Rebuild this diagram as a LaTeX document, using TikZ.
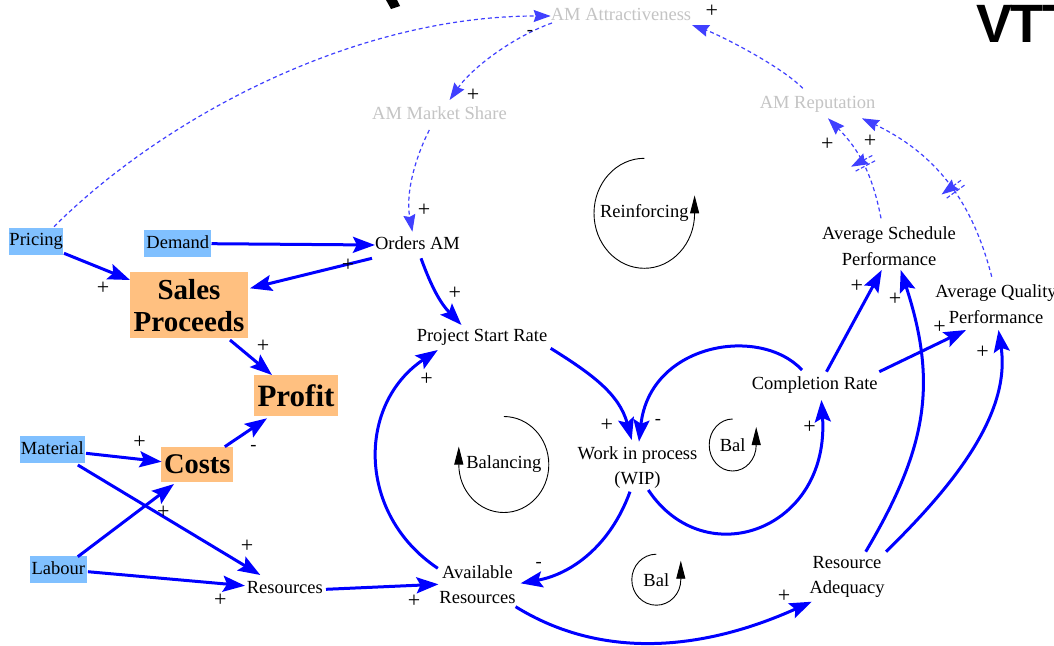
\documentclass[tikz,border=0pt]{standalone}
\usepackage{fontspec}
\setmainfont{Liberation Serif}
\newfontfamily\vttfont{Liberation Sans}
\usetikzlibrary{arrows.meta,decorations.markings}
\definecolor{boxblue}{HTML}{80C0FF}
\definecolor{boxorange}{HTML}{FFC080}
\definecolor{amgray}{HTML}{C4C4C4}
\definecolor{linkblue}{HTML}{0000FF}
\definecolor{dashblue}{HTML}{4040FF}
\begin{document}
\begin{tikzpicture}[x=1pt,y=-1pt,
  txt/.style={font=\fontsize{18.5}{25.5}\selectfont, inner sep=0pt, align=center},
  one/.style={txt, text height=13pt, text depth=4pt},
  amtxt/.style={txt, text height=12pt, text depth=3pt, text=amgray},
  inbox/.style={font=\fontsize{18.5}{22}\selectfont, fill=boxblue, inner sep=0pt, text height=13pt, text depth=4pt, minimum height=27.3pt},
  bigbox/.style={fill=boxorange, inner sep=0pt, align=center},
  sgn/.style={font=\fontsize{22}{24}\selectfont, inner sep=0pt},
  sgm/.style={font=\fontsize{18.5}{20}\selectfont, inner sep=0pt},
  link/.style={draw=linkblue, line width=3pt, -{Stealth[length=22pt,width=16pt,inset=4pt]}},
  dlink/.style={draw=dashblue, line width=1.2pt, dash pattern=on 4pt off 3pt, -{Stealth[length=17pt,width=12pt,inset=2pt]}},
  loopc/.style={draw=black, line width=0.9pt, -{Triangle[length=18pt,width=9pt]}},
  delay/.style={postaction={decorate, decoration={markings, mark=at position #1 with {\draw[dashblue, line width=1.1pt, dash pattern=on 4pt off 2pt] (-3pt,-12pt) -- (-3pt,12pt) (3pt,-12pt) -- (3pt,12pt);}}}},
]
\useasboundingbox (0,0) rectangle (1054,645);
\fill[white] (0,0) rectangle (1054,645);

% partial title fragments at the top
\fill[black] (386,0) -- (397,0) -- (400,6) -- (391,9) -- cycle;
\node[anchor=base west, inner sep=0pt, font=\vttfont\bfseries\fontsize{54}{54}\selectfont] (vtt) at (976.5,42.7) {V\kern-2pt T\kern-1pt T};

% boxes
\node[inbox, minimum width=54pt] (pricing) at (36.2,241.3) {Pricing};
\node[inbox, minimum width=67pt] (demand) at (177.8,243.7) {Demand};
\node[inbox, minimum width=64.5pt] (material) at (52.3,449.7) {Material};
\node[inbox, minimum width=57pt] (labour) at (58.3,569.7) {Labour};
\node[bigbox, minimum width=118pt, minimum height=66pt, font=\bfseries\fontsize{29}{32}\selectfont] (sales) at (189,305.3) {Sales\\Proceeds};
\node[bigbox, minimum width=84pt, minimum height=41pt, font=\bfseries\fontsize{31}{33}\selectfont] (profit) at (296,395.5) {Profit};
\node[bigbox, minimum width=72pt, minimum height=35.6pt, font=\bfseries\fontsize{28.5}{30}\selectfont] (costs) at (197.3,464.5) {Costs};

% variables
\node[one] (orders) at (417.5,245) {Orders AM};
\node[one] (psr) at (482,337) {Project Start Rate};
\node[one] (comp) at (814.7,385) {Completion Rate};
\node[one] (resources) at (284.8,589.3) {Resources};
\node[txt] (wip) at (637.5,467.5) {Work in process\\(WIP)};
\node[txt] (avres) at (477.5,584.7) {Available\\Resources};
\node[txt] (asp) at (889,246) {Average Schedule\\Performance};
\node[txt] (aqp) at (996,304) {Average Quality\\Performance};
\node[txt] (radq) at (847,577) {Resource\\Adequacy};
\node[amtxt] (amattr) at (621,16) {AM Attractiveness};
\node[amtxt] (amshare) at (439.5,115) {AM Market Share};
\node[amtxt] (amrep) at (817.6,104) {AM Reputation};

% solid links
\draw[link] (demand.east) -- (orders.west);
\draw[link] ([shift={(-45.5,13.3)}]orders.center) -- ([shift={(61,-17)}]sales.center);
\draw[link] ([shift={(27.8,12)}]pricing.center) -- ([shift={(-59,-25.3)}]sales.center);
\draw[link] ([shift={(3.5,13.3)}]orders.center) to[out=-70,in=134] ([shift={(-20.5,-12)}]psr.center);
\draw[link] ([shift={(41,34.7)}]sales.center) -- ([shift={(-24,-20.5)}]profit.center);
\draw[link] ([shift={(27.5,-17.8)}]costs.center) -- ([shift={(-29,22.8)}]profit.center);
\draw[link] ([shift={(33.7,3.6)}]material.center) -- ([shift={(-35.7,-2.8)}]costs.center);
\draw[link] ([shift={(19.5,-13)}]labour.center) -- ([shift={(-23.3,19.5)}]costs.center);
\draw[link] ([shift={(25.5,15.3)}]material.center) -- ([shift={(-24.5,-14.3)}]resources.center);
\draw[link] ([shift={(29.6,2)}]labour.center) -- ([shift={(-39.8,-3.6)}]resources.center);
\draw[link] ([shift={(41.2,0)}]resources.center) -- ([shift={(-39,-0.4)}]avres.center);
\draw[link] ([shift={(-39.7,-16.4)}]avres.center) .. controls (356.8,514.3) and (356.8,404) .. ([shift={(-44.2,13)}]psr.center);
\draw[link] ([shift={(68.7,11.3)}]psr.center) to[out=-32,in=105] ([shift={(-5.8,-27.5)}]wip.center);
\draw[link] ([shift={(-12.7,-15)}]comp.center) .. controls (760,325) and (650,343) .. ([shift={(1.5,-25.8)}]wip.center);
\draw[link] ([shift={(-7.5,24.2)}]wip.center) .. controls (610,546.7) and (570.6,574.3) .. ([shift={(43.1,-1.4)}]avres.center);
\draw[link] ([shift={(10.8,22.5)}]wip.center) .. controls (705,575) and (830,530) .. ([shift={(6.7,15)}]comp.center);
\draw[link] ([shift={(11.8,-13.3)}]comp.center) -- ([shift={(-7.3,24)}]asp.center);
\draw[link] ([shift={(64.6,-13.3)}]comp.center) -- ([shift={(-30,26)}]aqp.center);
\draw[link] ([shift={(38.1,22)}]avres.center) .. controls (600,659) and (700,652) .. ([shift={(-35.3,24.7)}]radq.center);
\draw[link] ([shift={(18.7,-25.3)}]radq.center) .. controls (926.9,448.5) and (937.9,384) .. ([shift={(11.7,24)}]asp.center);
\draw[link] ([shift={(39,-25.3)}]radq.center) .. controls (942.8,495.7) and (1012,419) .. ([shift={(2.5,26)}]aqp.center);

% dashed links
\draw[dlink] ([shift={(17.8,-14.6)}]pricing.center) .. controls (159,121.7) and (350,16) .. (amattr.west);
\draw[dlink] ([shift={(-69,7)}]amattr.center) .. controls (514.4,36.2) and (472.4,67.2) .. ([shift={(10.1,-15)}]amshare.center);
\draw[dlink] ([shift={(-10.2,15)}]amshare.center) .. controls (415.8,156.7) and (405.2,192.5) .. ([shift={(-5.1,-13.3)}]orders.center);
\draw[dlink] ([shift={(-14.9,-15.7)}]amrep.center) .. controls (782,66.7) and (720.2,35.2) .. ([shift={(71,9)}]amattr.center);
\draw[dlink, delay=0.5] ([shift={(-8,-27.7)}]asp.center) to[bend right=17] ([shift={(10.4,14.3)}]amrep.center);
\draw[dlink, delay=0.45] ([shift={(-4.3,-27.3)}]aqp.center) to[bend right=25] ([shift={(44.4,14.3)}]amrep.center);

% loop markers
\node[txt] (reinf) at (644.3,213.3) {Reinforcing};
\draw[loopc] ([yshift=55pt]reinf.center) arc[start angle=90,end angle=360,x radius=50.3pt,y radius=55pt] -- ++(0pt,18pt);
\node[txt] (balg) at (503.8,464.5) {Balancing};
\draw[loopc] ([yshift=48pt]balg.center) arc[start angle=90,end angle=-180,x radius=45pt,y radius=48pt] -- ++(0pt,18pt);
\node[txt] (bal1) at (732.7,445) {Bal};
\draw[loopc] ([yshift=26pt]bal1.center) arc[start angle=90,end angle=360,x radius=23.5pt,y radius=26pt] -- ++(0pt,18pt);
\node[txt] (bal2) at (656.3,579.7) {Bal};
\draw[loopc] ([yshift=25.5pt]bal2.center) arc[start angle=90,end angle=360,x radius=24.5pt,y radius=25.5pt] -- ++(0pt,19pt);

% polarity signs
\node[sgn] (s1) at (711.8,11.7) {+};
\node[sgm] (s2) at (530,33.3) {-};
\node[sgn] (s3) at (473,95) {+};
\node[sgn] (s4) at (424,210) {+};
\node[sgn] (s5) at (348,265) {+};
\node[sgn] (s6) at (103,288.3) {+};
\node[sgn] (s7) at (454.7,293.3) {+};
\node[sgn] (s8) at (263,346.7) {+};
\node[sgm] (s9) at (253.5,447.7) {-};
\node[sgn] (s10) at (139.6,442.3) {+};
\node[sgn] (s11) at (163.3,512.3) {+};
\node[sgn] (s12) at (247,546.7) {+};
\node[sgn] (s13) at (220.4,600.7) {+};
\node[sgn] (s14) at (414,601.7) {+};
\node[sgn] (s15) at (426.6,379) {+};
\node[sgn] (s16) at (606.9,425) {+};
\node[sgm] (s17) at (658,421.7) {-};
\node[sgm] (s18) at (538.7,565) {-};
\node[sgn] (s19) at (809.5,427.3) {+};
\node[sgn] (s20) at (784,596.7) {+};
\node[sgn] (s21) at (856.7,286) {+};
\node[sgn] (s22) at (895,299.3) {+};
\node[sgn] (s23) at (939.6,327.3) {+};
\node[sgn] (s24) at (982.5,352.3) {+};
\node[sgn] (s25) at (827.2,144) {+};
\node[sgn] (s26) at (870,141.7) {+};
\end{tikzpicture}
\end{document}
